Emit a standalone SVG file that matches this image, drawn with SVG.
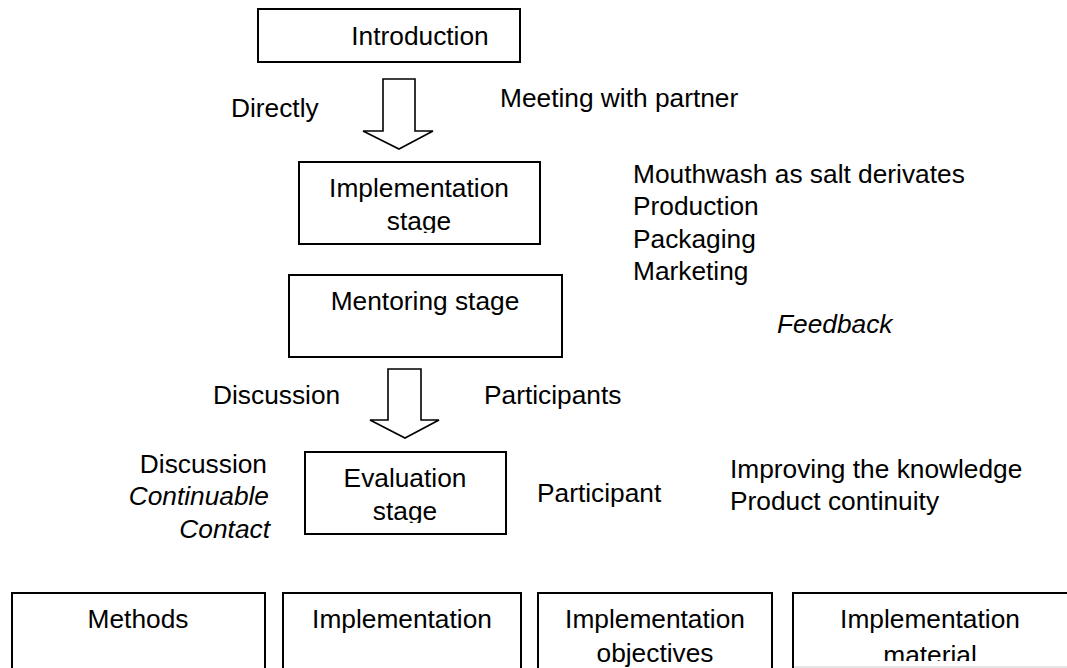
<svg xmlns="http://www.w3.org/2000/svg" width="1067" height="668" viewBox="0 0 1067 668">
  <style>
    text { font-family: "Liberation Sans", Arial, sans-serif; font-size: 26.3px; fill: #000; }
    .c { text-anchor: middle; }
    .e { text-anchor: end; }
    .i { font-style: italic; }
    .box { fill: #fff; stroke: #000; stroke-width: 2; }
    .arrow { fill: #fff; stroke: #000; stroke-width: 1.6; stroke-linejoin: miter; }
  </style>
  <defs>
    <clipPath id="clipImpl"><rect x="299" y="162" width="241" height="71"/></clipPath>
    <clipPath id="clipEval"><rect x="305" y="452" width="201" height="71"/></clipPath>
    <clipPath id="clipMat"><rect x="793" y="593" width="274" height="68"/></clipPath>
  </defs>
  <rect width="1067" height="668" fill="#fff"/>

  <g id="connectors">
    <path class="arrow" d="M383,79 L415,79 L415,131 L433,131 L399,149 L363,131 L383,131 Z"/>
    <path class="arrow" d="M388,369 L421,369 L421,420 L439,420 L405,438 L370,420 L388,420 Z"/>
  </g>

  <g id="introduction">
    <rect class="box" x="258" y="9" width="262" height="53"/>
    <text class="c" x="420" y="45">Introduction</text>
  </g>

  <g id="implementation-stage">
    <rect class="box" x="299" y="162" width="241" height="82"/>
    <g clip-path="url(#clipImpl)">
      <text class="c" x="419" y="197">Implementation</text>
      <text class="c" x="419" y="230">stage</text>
    </g>
  </g>

  <g id="mentoring-stage">
    <rect class="box" x="289" y="275" width="273" height="82"/>
    <text class="c" x="425" y="310">Mentoring stage</text>
  </g>

  <g id="evaluation-stage">
    <rect class="box" x="305" y="452" width="201" height="82"/>
    <g clip-path="url(#clipEval)">
      <text class="c" x="405" y="487">Evaluation</text>
      <text class="c" x="405" y="520">stage</text>
    </g>
  </g>

  <g id="labels">
    <text x="231" y="117">Directly</text>
    <text x="500" y="107">Meeting with partner</text>
    <text x="633" y="183">Mouthwash as salt derivates</text>
    <text x="633" y="215">Production</text>
    <text x="633" y="248">Packaging</text>
    <text x="633" y="280">Marketing</text>
    <text class="i" x="777" y="333">Feedback</text>
    <text x="213" y="404">Discussion</text>
    <text x="484" y="404">Participants</text>
    <text class="e" x="267" y="473">Discussion</text>
    <text class="e i" x="269" y="505">Continuable</text>
    <text class="e i" x="270" y="538">Contact</text>
    <text x="537" y="502">Participant</text>
    <text x="730" y="478">Improving the knowledge</text>
    <text x="730" y="510">Product continuity</text>
  </g>

  <g id="methods">
    <rect class="box" x="12" y="593" width="253" height="90"/>
    <text class="c" x="138" y="628">Methods</text>
  </g>
  <g id="implementation">
    <rect class="box" x="283" y="593" width="238" height="90"/>
    <text class="c" x="402" y="628">Implementation</text>
  </g>
  <g id="implementation-objectives">
    <rect class="box" x="538" y="593" width="234" height="90"/>
    <text class="c" x="655" y="628">Implementation</text>
    <text class="c" x="655" y="662">objectives</text>
  </g>
  <g id="implementation-material">
    <rect class="box" x="793" y="593" width="290" height="90"/>
    <text class="c" x="930" y="628">Implementation</text>
    <g clip-path="url(#clipMat)">
      <text class="c" x="930" y="664">material</text>
    </g>
    <line x1="794" y1="667" x2="1067" y2="667" stroke="#e6e6e6" stroke-width="2"/>
  </g>
</svg>
